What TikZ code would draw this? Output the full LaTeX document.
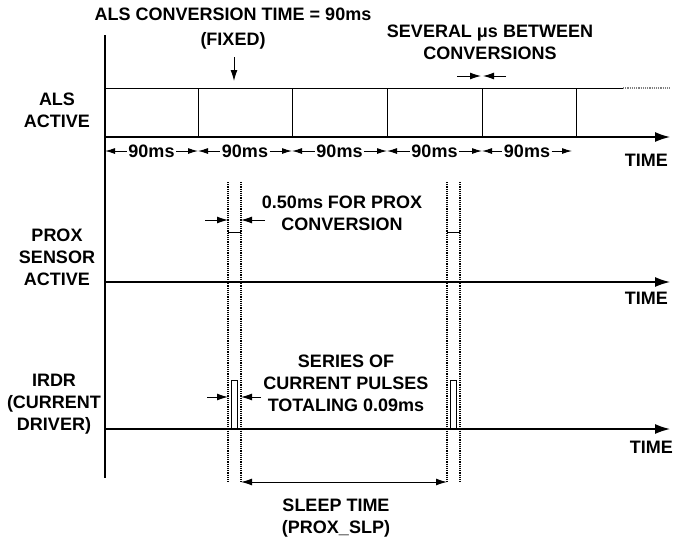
\documentclass[tikz,border=0pt]{standalone}
\usepackage{fontspec}
\setmainfont{Liberation Sans}
\usetikzlibrary{arrows.meta}
\tikzset{
  lbl/.style={font=\bfseries\fontsize{18}{22}\selectfont, align=center, inner sep=0pt},
  axis/.style={line width=1.4pt, -{Latex[length=15pt,width=10pt]}},
  dim/.style={line width=1pt, -{Latex[length=11pt,width=7pt]}},
  guide/.style={line width=1.2pt, densely dotted},
}
\begin{document}
\begin{tikzpicture}[x=1pt,y=-1pt]
\useasboundingbox (0,0) rectangle (683,542);
\def\ga{228} \def\gb{241} \def\gc{447} \def\gd{460}
% vertical axis and row labels
\draw[line width=1.4pt] (105,35) -- (105,478);
\node[lbl] (als) at (57,110) {ALS\\ACTIVE};
\node[lbl] (prox) at (57,257) {PROX\\SENSOR\\ACTIVE};
\node[lbl] (irdr) at (54,404) {IRDR\\(CURRENT\\DRIVER)};
% ALS row
\draw[axis] (105,137) -- (670,137);
\node[lbl, anchor=east] (t1) at (668,160) {TIME};
\draw[line width=0.9pt] (105,88) -- (623,88);
\draw[line width=1.2pt, densely dotted, gray] (623,88) -- (671,88);
\foreach \xx in {198,292,387,482,576}
  \draw[line width=0.7pt] (\xx,88) -- (\xx,137);
\foreach \xa/\xb [count=\i] in {105/198,198/292,292/387,387/482,482/572} {
  \node[lbl, inner sep=1.5pt] (ms\i) at ({(\xa+\xb)/2},151) {90ms};
  \draw[dim, {Latex[length=10pt,width=6pt]}-] (\xa,151) -- (ms\i.west);
  \draw[dim, -{Latex[length=10pt,width=6pt]}] (ms\i.east) -- (\xb,151);
}
\node[lbl] (conv) at (233,29) {ALS CONVERSION TIME = 90ms\\[3pt](FIXED)};
\draw[dim] (234,57) -- (234,81);
\node[lbl] (sev) at (490,42) {SEVERAL μs BETWEEN\\CONVERSIONS};
\draw[dim] (457,76) -- (481,76);
\draw[dim] (506,76) -- (483,76);
% PROX row
\foreach \xx in {\ga,\gb,\gc,\gd}
  \draw[guide] (\xx,182) -- (\xx,482);
\draw[axis] (105,282) -- (670,282);
\node[lbl, anchor=east] (t2) at (668,298) {TIME};
\draw[line width=0.6pt] (\ga,232) -- (\gb,232);
\draw[line width=0.6pt] (\gc,232) -- (\gd,232);
\draw[dim] (205,220) -- (\ga,220);
\draw[dim] (265,220) -- (\gb,220);
\node[lbl] (half) at (342,213) {0.50ms FOR PROX\\CONVERSION};
% IRDR row
\draw[axis] (105,429) -- (670,429);
\node[lbl, anchor=east] (t3) at (673,447) {TIME};
\draw[line width=0.7pt] (231,429) rectangle (237,380);
\draw[line width=0.7pt] (450,429) rectangle (456,380);
\draw[dim] (207,397) -- (\ga,397);
\draw[dim] (261,397) -- (\gb,397);
\node[lbl] (pulse) at (346,383) {SERIES OF\\CURRENT PULSES\\TOTALING 0.09ms};
% sleep time
\draw[dim, {Latex[length=11pt,width=7pt]}-{Latex[length=11pt,width=7pt]}] (\gb,482) -- (\gc,482);
\node[lbl] (sleep) at (336,518) {SLEEP TIME\\(PROX\_SLP)};
\end{tikzpicture}
\end{document}
